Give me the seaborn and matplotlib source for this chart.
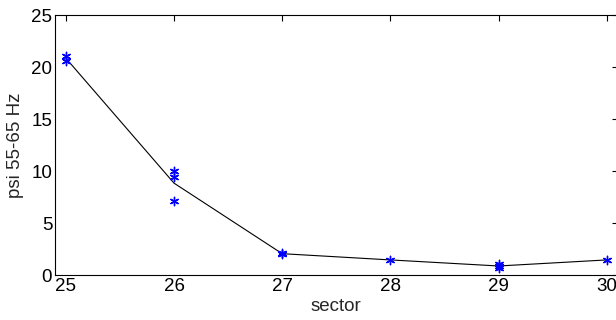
import matplotlib
matplotlib.use("Agg")
import matplotlib.pyplot as plt
import pandas as pd
import seaborn as sns

# Measurements per sector
sector = [25, 25, 26, 26, 26, 27, 27, 28, 29, 29, 29, 30]
psi = [21.1, 20.6, 10.0, 9.4, 7.1, 2.1, 2.0, 1.45, 1.05, 0.7, 0.85, 1.45]

x_ticks = [25, 26, 27, 28, 29, 30]
y_ticks = [0, 5, 10, 15, 20, 25]

df = pd.DataFrame({"sector": sector, "psi": psi})

sns.set_style("white")
plt.rcParams["font.family"] = ["Liberation Sans", "DejaVu Sans"]

fig = plt.figure(figsize=(6.16, 3.2), dpi=100)
ax = fig.add_axes([55 / 616, 45 / 320, 562.6 / 616, 260 / 320])

# mean per sector as a thin black line
sns.lineplot(data=df, x="sector", y="psi", estimator="mean", errorbar=None,
             color="black", linewidth=0.8, ax=ax)
# individual measurements as blue asterisks
sns.scatterplot(data=df, x="sector", y="psi", marker=(6, 2, 0), s=36,
                color="blue", edgecolor="blue", linewidth=1.0, ax=ax, zorder=3)

ax.set_xlim(24.9, 30.1)
ax.set_ylim(0, 25)
ax.set_xticks(x_ticks)
ax.set_yticks(y_ticks)
ax.tick_params(direction="in", length=4, width=0.8, labelsize=13.5,
               top=True, right=True, colors="black", pad=2)
for s in ax.spines.values():
    s.set_visible(True)
    s.set_color("black")
    s.set_linewidth(0.8)
ax.set_xlabel("sector", fontsize=13.5, labelpad=2)
ax.set_ylabel("psi 55-65 Hz", fontsize=13.5, labelpad=5)

fig.savefig("out.png", dpi=100)
